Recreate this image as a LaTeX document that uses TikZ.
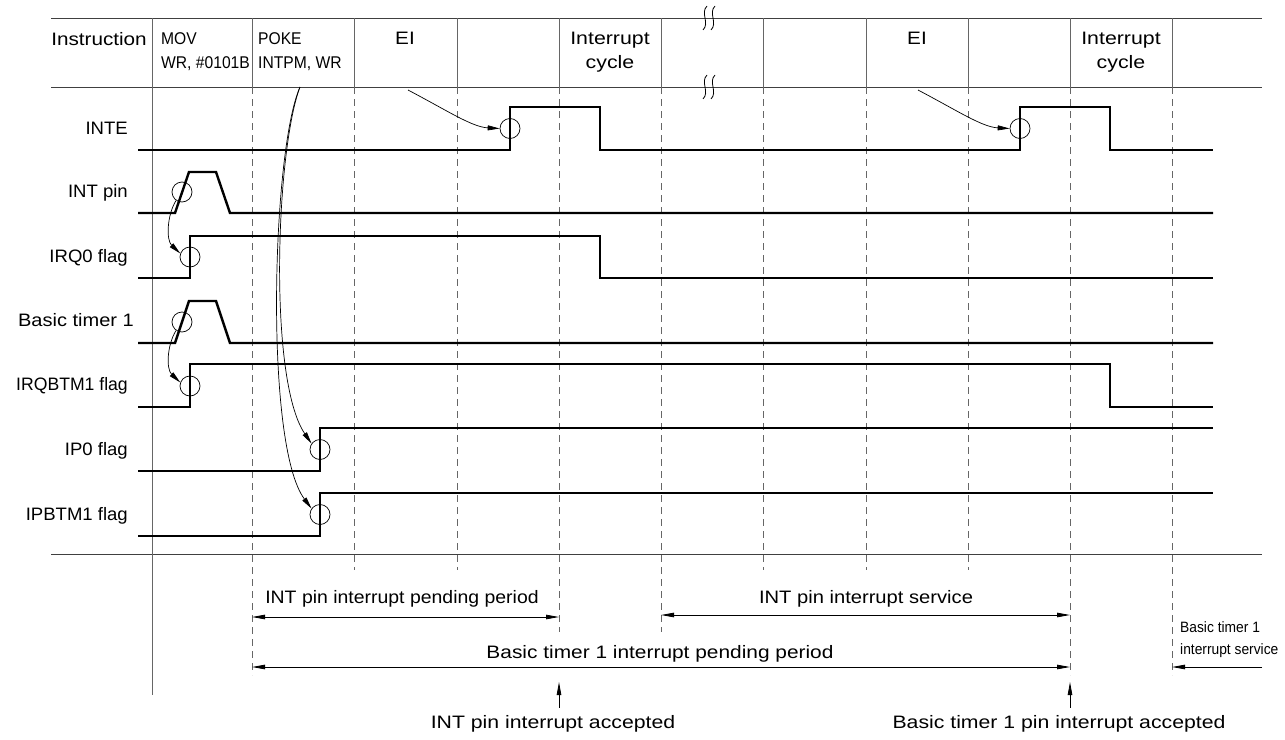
\documentclass[tikz,border=0pt]{standalone}
\usepackage{fontspec}
\setmainfont{Liberation Sans}
\usetikzlibrary{arrows.meta}
\begin{document}
\begin{tikzpicture}[x=1pt,y=-1pt,
  lab/.style={font=\fontsize{18}{24}\selectfont, inner sep=0pt, xscale=1.03},
  txt/.style={font=\fontsize{18}{24}\selectfont, inner sep=0pt, anchor=base},
  hdr/.style={font=\fontsize{18}{24}\selectfont, inner sep=0pt, xscale=1.15, align=center, anchor=north},
  small/.style={font=\fontsize{17}{24}\selectfont, inner sep=0pt, xscale=0.92, align=left, anchor=north west},
  tiny/.style={font=\fontsize{15}{22}\selectfont, inner sep=0pt, xscale=0.92, align=left, anchor=north west},
  sig/.style={line width=2.4pt, line join=miter},
  hgrid/.style={line width=0.9pt, draw=black!75},
  vgrid/.style={line width=0.9pt, draw=black!60},
  dashv/.style={draw=black!60, line width=0.8pt, dash pattern=on 7pt off 5pt},
  brk/.style={line width=0.8pt},
  ring/.style={circle, draw, line width=0.7pt, minimum size=20pt, inner sep=0pt},
  conn/.style={line width=0.7pt, -{Triangle[length=12pt,width=5pt]}},
  dimarr/.style={line width=0.8pt, {Triangle[length=13pt,width=4.5pt]}-{Triangle[length=13pt,width=4.5pt]}},
  onearr/.style={line width=0.8pt, -{Triangle[length=13pt,width=4.5pt]}},
]
\useasboundingbox (0,0) rectangle (1285,739);

% ---- grid ----
\draw[hgrid] (51,18) -- (1262,18);
\draw[hgrid] (51,87) -- (1262,87);
\draw[hgrid] (51,554) -- (1262,554);
\draw[vgrid] (152,18) -- (152,695);
\foreach \x in {252,354,457,559,661,763,866,968,1070,1172}
  \draw[vgrid] (\x,18) -- (\x,87);
\foreach \x/\e in {252/675,354/570,457/570,559/632,661/632,763/570,866/570,968/570,1070/675,1172/675}
  \draw[dashv] (\x,87) -- (\x,\e);

% ---- break marks ----
\foreach \y in {18,87}
  \foreach \x in {705,713}
    \draw[brk] (\x+2,\y-12) .. controls (\x-5,\y-5) and (\x+5,\y+5) .. (\x-2,\y+12);

% ---- header texts ----
\node[hdr] (hinstr) at (99,32) {Instruction};
\node[small] (hmov) at (161,32) {MOV\\WR, \#0101B};
\node[small] (hpoke) at (258,32) {POKE\\INTPM, WR};
\node[hdr] (hei1) at (405,32) {EI};
\node[hdr, xscale=1.03] (hcyc1) at (610,32) {Interrupt\\cycle};
\node[hdr] (hei2) at (917,32) {EI};
\node[hdr, xscale=1.03] (hcyc2) at (1121,32) {Interrupt\\cycle};

% ---- signal labels ----
\node[lab, anchor=base east] (linte) at (128,134) {INTE};
\node[lab, anchor=base east] (lint) at (128,197) {INT pin};
\node[lab, anchor=base east] (lirq) at (128,262) {IRQ0 flag};
\node[lab, anchor=base east, xscale=1.08] (lbt) at (134,326) {Basic timer 1};
\node[lab, anchor=base east, xscale=0.95] (lirqb) at (128,390) {IRQBTM1 flag};
\node[lab, anchor=base east] (lip) at (128,455) {IP0 flag};
\node[lab, anchor=base east] (lipb) at (128,520) {IPBTM1 flag};

% ---- waveforms ----
\draw[sig] (138,150) -- (510,150) -- (510,107) -- (600,107) -- (600,150) -- (1020,150) -- (1020,107) -- (1110,107) -- (1110,150) -- (1213,150);
\draw[sig] (138,213) -- (175,213) -- (189,172) -- (216,172) -- (230,213) -- (1213,213);
\draw[sig] (138,278) -- (190,278) -- (190,236) -- (600,236) -- (600,278) -- (1213,278);
\draw[sig] (138,343) -- (175,343) -- (189,301) -- (216,301) -- (230,343) -- (1213,343);
\draw[sig] (138,407) -- (190,407) -- (190,364) -- (1110,364) -- (1110,407) -- (1213,407);
\draw[sig] (138,471) -- (320,471) -- (320,428) -- (1213,428);
\draw[sig] (138,536) -- (320,536) -- (320,493) -- (1213,493);

% ---- event circles ----
\node[ring] (cinte1) at (510,128.5) {};
\node[ring] (cinte2) at (1020,128.5) {};
\node[ring] (cint) at (182,192) {};
\node[ring] (cirq) at (190,257) {};
\node[ring] (cbt) at (182,322) {};
\node[ring] (cirqb) at (190,386) {};
\node[ring] (cip) at (320,449.5) {};
\node[ring] (cipb) at (320,514.5) {};

% ---- cause arrows ----
\coordinate (ei1) at (408,90);
\coordinate (ei2) at (918,90);
\coordinate (poke) at (300,87);
\draw[conn] (cint.235) .. controls (167,215) and (166,240) .. (cirq.160);
\draw[conn] (cbt.235) .. controls (167,345) and (166,369) .. (cirqb.160);
\draw[conn] (ei1) .. controls (448,111) and (472,127) .. (cinte1.west);
\draw[conn] (ei2) .. controls (958,111) and (982,127) .. (cinte2.west);
\draw[conn] (poke) .. controls (276,150) and (268,380) .. (cip.145);
\draw[conn] (poke) .. controls (272,150) and (264,445) .. (cipb.145);

% ---- bottom annotations ----
\coordinate (p1a) at (252,617);
\coordinate (p1b) at (559,617);
\coordinate (s1a) at (661,615);
\coordinate (s1b) at (1070,615);
\coordinate (p2a) at (252,667);
\coordinate (p2b) at (1070,667);
\coordinate (s2a) at (1262,667);
\coordinate (s2b) at (1172,667);
\coordinate (t1) at (559,682);
\coordinate (t2) at (1070,682);

\node[txt, xscale=1.08] (tpend1) at (402,603) {INT pin interrupt pending period};
\node[txt, xscale=1.12] (tserv1) at (866,603) {INT pin interrupt service};
\node[txt, xscale=1.16] (tpend2) at (660,658) {Basic timer 1 interrupt pending period};
\node[tiny] (tserv2) at (1180,621) {Basic timer 1\\interrupt service};
\node[txt, xscale=1.18, inner ysep=7pt] (tacc1) at (553,728) {INT pin interrupt accepted};
\node[txt, xscale=1.18, inner ysep=7pt] (tacc2) at (1059,728) {Basic timer 1 pin interrupt accepted};

\draw[dimarr] (p1a) -- (p1b);
\draw[dimarr] (s1a) -- (s1b);
\draw[dimarr] (p2a) -- (p2b);
\draw[onearr] (s2a) -- (s2b);
\draw[onearr] (t1 |- tacc1.north) -- (t1);
\draw[onearr] (t2 |- tacc2.north) -- (t2);
\end{tikzpicture}
\end{document}
